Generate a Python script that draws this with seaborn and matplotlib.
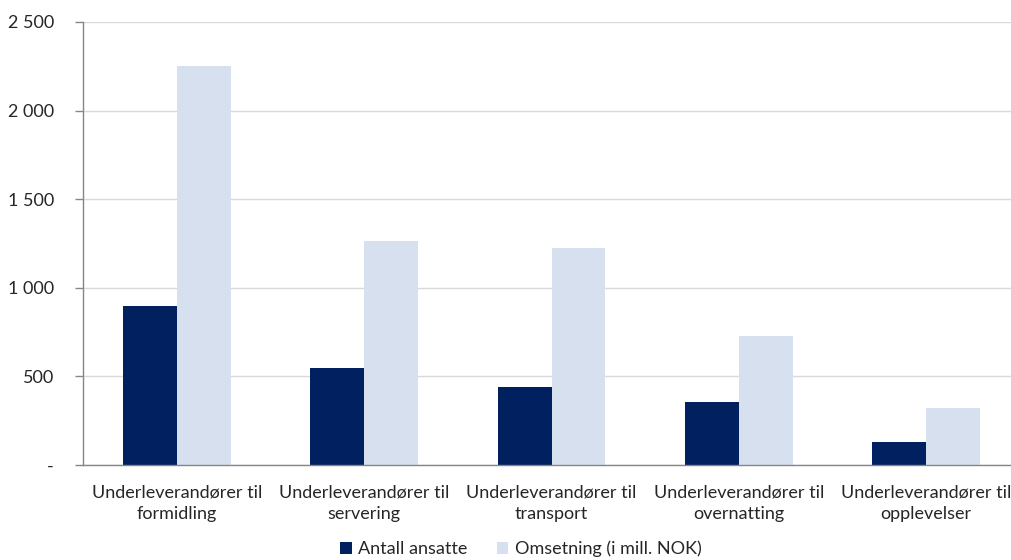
import matplotlib
matplotlib.use("Agg")
import matplotlib.pyplot as plt
import seaborn as sns
import pandas as pd
from matplotlib.ticker import FixedLocator

categories = ["Underleverandører til\nformidling", "Underleverandører til\nservering",
              "Underleverandører til\ntransport", "Underleverandører til\novernatting",
              "Underleverandører til\nopplevelser"]
antall_ansatte = [900, 545, 440, 358, 130]
omsetning = [2250, 1265, 1225, 730, 323]
series_names = ["Antall ansatte", "Omsetning (i mill. NOK)"]
ytick_values = [0, 500, 1000, 1500, 2000, 2500]
ytick_labels = ["-", "500", "1 000", "1 500", "2 000", "2 500"]

df = pd.DataFrame({
    "cat": categories * 2,
    "serie": [series_names[0]] * 5 + [series_names[1]] * 5,
    "val": antall_ansatte + omsetning,
})

sns.set_theme(style="white")
plt.rcParams["font.family"] = ["Lato", "DejaVu Sans"]

fs = 13
fig = plt.figure(figsize=(10.11, 5.6), dpi=100)
ax = fig.add_axes([83/1011, 1-465/560, (1020-83)/1011, (465-22)/560])
palette = {series_names[0]: "#002060", series_names[1]: "#D6E0EF"}
sns.barplot(data=df, x="cat", y="val", hue="serie", hue_order=series_names,
            order=categories, palette=palette, width=0.576, saturation=1,
            ax=ax, legend=True)
for p in ax.patches:
    p.set_linewidth(0)

ax.set_xlim(-0.5, 4.5)
ax.set_ylim(0, 2500)
ax.set_yticks(ytick_values)
ax.set_yticklabels(ytick_labels, fontsize=fs, color="#262626")
ax.set_xticks(range(5))
ax.set_xticklabels(categories, fontsize=fs, color="#262626", linespacing=1.45)
ax.xaxis.set_minor_locator(FixedLocator([-0.5, 0.5, 1.5, 2.5, 3.5, 4.5]))
ax.tick_params(axis="x", which="major", length=0, pad=14)
ax.tick_params(axis="x", which="minor", length=6, color="#868686", width=1)
ax.tick_params(axis="y", which="major", length=6, color="#868686", width=1, left=True, pad=15)
ax.yaxis.grid(True, color="#D9D9D9", linewidth=1)
ax.set_axisbelow(True)
ax.set_xlabel("")
ax.set_ylabel("")
for s in ["top", "right"]:
    ax.spines[s].set_visible(False)
for s in ["left", "bottom"]:
    ax.spines[s].set_color("#868686")
    ax.spines[s].set_linewidth(1)

handles, labels = ax.get_legend_handles_labels()
ax.legend_.remove()
fig.legend(handles, labels, loc="center", bbox_to_anchor=(521/1011, 1-549/560),
           ncol=2, frameon=False, fontsize=fs, handlelength=0.65, handleheight=0.65,
           handletextpad=0.35, columnspacing=1.6, borderpad=0)

fig.savefig("out.png", dpi=100)
